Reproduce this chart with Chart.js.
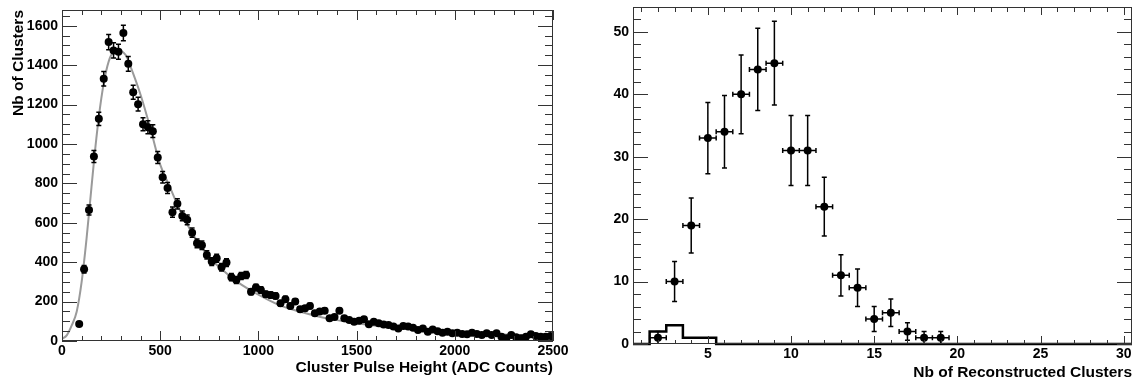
<!DOCTYPE html>
<html>
<head>
<meta charset="utf-8">
<script src="https://cdn.jsdelivr.net/npm/chart.js@4.4.1/dist/chart.umd.min.js"></script>
<style>
  html, body { margin: 0; padding: 0; background: #fff; }
  #wrap { position: relative; width: 1136px; height: 385px; }
  .pane { position: absolute; top: 0; width: 568px; height: 385px; }
</style>
</head>
<body>
<div id="wrap">
  <div class="pane" style="left:0"><canvas id="pulseChart" width="568" height="385"></canvas></div>
  <div class="pane" style="left:568px"><canvas id="clusterChart" width="568" height="385"></canvas></div>
</div>
<script>
// ========================================
// Left panel: cluster pulse height
// ========================================
const pulseX = [
  87.5, 112.5, 137.5, 162.5, 187.5, 212.5, 237.5, 262.5, 287.5, 312.5,
  337.5, 362.5, 387.5, 412.5, 437.5, 462.5, 487.5, 512.5, 537.5, 562.5,
  587.5, 612.5, 637.5, 662.5, 687.5, 712.5, 737.5, 762.5, 787.5, 812.5,
  837.5, 862.5, 887.5, 912.5, 937.5, 962.5, 987.5, 1012.5, 1037.5, 1062.5,
  1087.5, 1112.5, 1137.5, 1162.5, 1187.5, 1212.5, 1237.5, 1262.5, 1287.5, 1312.5,
  1337.5, 1362.5, 1387.5, 1412.5, 1437.5, 1462.5, 1487.5, 1512.5, 1537.5, 1562.5,
  1587.5, 1612.5, 1637.5, 1662.5, 1687.5, 1712.5, 1737.5, 1762.5, 1787.5, 1812.5,
  1837.5, 1862.5, 1887.5, 1912.5, 1937.5, 1962.5, 1987.5, 2012.5, 2037.5, 2062.5,
  2087.5, 2112.5, 2137.5, 2162.5, 2187.5, 2212.5, 2237.5, 2262.5, 2287.5, 2312.5,
  2337.5, 2362.5, 2387.5, 2412.5, 2437.5, 2462.5, 2487.5
];
const pulseCounts = [
  86, 364, 665, 936, 1128, 1331, 1517, 1475, 1468, 1563,
  1407, 1262, 1202, 1100, 1085, 1065, 931, 831, 776, 654,
  696, 635, 615, 550, 496, 486, 437, 403, 420, 374,
  398, 324, 310, 330, 335, 250, 271, 259, 237, 234,
  229, 191, 212, 178, 200, 161, 166, 178, 141, 150,
  154, 115, 122, 154, 115, 107, 98, 103, 110, 85,
  98, 90, 84, 81, 73, 64, 76, 73, 67, 56,
  64, 47, 59, 50, 42, 47, 39, 42, 36, 34,
  42, 36, 31, 39, 31, 39, 22, 14, 31, 19,
  14, 22, 34, 25, 22, 22, 25
];
const pulseErr = [
  9.3, 19.1, 25.8, 30.6, 33.6, 36.5, 38.9, 38.4, 38.3, 39.5,
  37.5, 35.5, 34.7, 33.2, 32.9, 32.6, 30.5, 28.8, 27.9, 25.6,
  26.4, 25.2, 24.8, 23.5, 22.3, 22.0, 20.9, 20.1, 20.5, 19.3,
  19.9, 18.0, 17.6, 18.2, 18.3, 15.8, 16.5, 16.1, 15.4, 15.3,
  15.1, 13.8, 14.6, 13.3, 14.1, 12.7, 12.9, 13.3, 11.9, 12.2,
  12.4, 10.7, 11.0, 12.4, 10.7, 10.3, 9.9, 10.1, 10.5, 9.2,
  9.9, 9.5, 9.2, 9.0, 8.5, 8.0, 8.7, 8.5, 8.2, 7.5,
  8.0, 6.9, 7.7, 7.1, 6.5, 6.9, 6.2, 6.5, 6.0, 5.8,
  6.5, 6.0, 5.6, 6.2, 5.6, 6.2, 4.7, 3.7, 5.6, 4.4,
  3.7, 4.7, 5.8, 5.0, 4.7, 4.7, 5.0
];
// fit curve
const fitX = [0, 25, 50, 75, 100, 125, 150, 175, 200, 225, 250, 287, 325, 350, 400, 450, 500,
  550, 600, 650, 700, 750, 800, 900, 1000, 1100, 1200, 1300, 1400, 1500, 1600, 1750, 2000, 2250, 2500];
const fitY = [10, 30, 80, 150, 300, 520, 780, 1030, 1230, 1370, 1450, 1475, 1450, 1390, 1250, 1080, 895,
  780, 665, 570, 490, 425, 375, 295, 235, 185, 152, 126, 106, 90, 78, 64, 47, 33, 22];
const pulseTicksX = [0, 500, 1000, 1500, 2000, 2500];
const pulseTicksY = [0, 200, 400, 600, 800, 1000, 1200, 1400, 1600];

// ========================================
// Right panel: reconstructed clusters
// ========================================
const clusterN = [2, 3, 4, 5, 6, 7, 8, 9, 10, 11, 12, 13, 14, 15, 16, 17, 18, 19];
const eventCounts = [1, 10, 19, 33, 34, 40, 44, 45, 31, 31, 22, 11, 9, 4, 5, 2, 1, 1];
const eventErr = [1, 3.2, 4.4, 5.7, 5.8, 6.3, 6.6, 6.7, 5.6, 5.6, 4.7, 3.3, 3, 2, 2.2, 1.4, 1, 1];
const clusterBinHalf = 0.5;
const histEdges = [0.5, 1.5, 2.5, 3.5, 4.5, 5.5, 30.5];
const histContent = [0, 2, 3, 1, 1, 0];
const clusterTicksX = [5, 10, 15, 20, 25, 30];
const clusterTicksY = [0, 10, 20, 30, 40, 50];

const FONT = "'Liberation Sans', Arial, Helvetica, sans-serif";

// ROOT style box with inward ticks on all four sides
const rootFrame = {
  id: 'rootFrame',
  afterDraw(chart, args, o) {
    const { ctx, chartArea: a, scales: { x, y } } = chart;
    const near = (v, step) => Math.abs(v / step - Math.round(v / step)) < 1e-6;
    ctx.save();
    ctx.strokeStyle = o.color;
    ctx.lineWidth = 1;
    ctx.strokeRect(a.left + 0.5, a.top + 0.5, a.right - a.left - 1, a.bottom - a.top - 1);
    ctx.beginPath();
    for (let v = Math.ceil(x.min / o.xMinor) * o.xMinor; v <= x.max + 1e-9; v += o.xMinor) {
      const px = Math.round(x.getPixelForValue(v)) + 0.5;
      const big = near(v, o.xMajor);
      const lb = big ? o.xMajorLen : o.xMinorLen;
      const lt = big ? o.xTopMajorLen : o.xTopMinorLen;
      ctx.moveTo(px, a.bottom); ctx.lineTo(px, a.bottom - lb);
      ctx.moveTo(px, a.top); ctx.lineTo(px, a.top + lt);
    }
    for (let v = Math.ceil(y.min / o.yMinor) * o.yMinor; v <= y.max + 1e-9; v += o.yMinor) {
      const py = Math.round(y.getPixelForValue(v)) + 0.5;
      const l = near(v, o.yMajor) ? o.yMajorLen : o.yMinorLen;
      ctx.moveTo(a.left, py); ctx.lineTo(a.left + l, py);
      ctx.moveTo(a.right, py); ctx.lineTo(a.right - l, py);
    }
    ctx.stroke();
    ctx.restore();
  }
};

// error bars drawn just under the markers
const errorBars = {
  id: 'errorBars',
  beforeDatasetDraw(chart, args) {
    const ds = chart.data.datasets[args.index];
    if (!ds.errY) return;
    const { ctx, chartArea: a, scales: { x, y } } = chart;
    const cap = ds.capSize;
    ctx.save();
    ctx.beginPath();
    ctx.rect(a.left, a.top, a.right - a.left, a.bottom - a.top);
    ctx.clip();
    ctx.strokeStyle = '#000';
    ctx.lineWidth = 1.5;
    ctx.beginPath();
    args.meta.data.forEach((pt, i) => {
      const d = ds.data[i];
      const e = ds.errY[i];
      const yt = y.getPixelForValue(d.y + e);
      const yb = y.getPixelForValue(d.y - e);
      ctx.moveTo(pt.x, yt); ctx.lineTo(pt.x, yb);
      ctx.moveTo(pt.x - cap, yt); ctx.lineTo(pt.x + cap, yt);
      ctx.moveTo(pt.x - cap, yb); ctx.lineTo(pt.x + cap, yb);
      if (ds.errX) {
        const xl = x.getPixelForValue(d.x - ds.errX);
        const xr = x.getPixelForValue(d.x + ds.errX);
        ctx.moveTo(xl, pt.y); ctx.lineTo(xr, pt.y);
        ctx.moveTo(xl, pt.y - cap); ctx.lineTo(xl, pt.y + cap);
        ctx.moveTo(xr, pt.y - cap); ctx.lineTo(xr, pt.y + cap);
      }
    });
    ctx.stroke();
    ctx.restore();
  }
};

function makeScales(cfg) {
  return {
    x: {
      type: 'linear', position: 'bottom', min: cfg.xMin, max: cfg.xMax,
      grid: { display: false, drawTicks: false }, border: { display: false },
      afterBuildTicks: s => { s.ticks = cfg.xTicks.map(v => ({ value: v })); },
      afterFit: s => { s.height = cfg.xHeight; s.paddingLeft = 0; s.paddingRight = 0; },
      ticks: { color: '#000', font: { family: FONT, weight: 'bold', size: 14 }, padding: 2,
        maxRotation: 0, autoSkip: false, callback: v => String(v) },
      title: { display: true, text: cfg.xTitle, align: 'end', color: '#000',
        font: { family: FONT, weight: 'bold', size: 15.5 }, padding: { top: 0, bottom: cfg.xTitlePad } }
    },
    y: {
      type: 'linear', min: 0, max: cfg.yMax,
      grid: { display: false, drawTicks: false }, border: { display: false },
      afterBuildTicks: s => { s.ticks = cfg.yTicks.map(v => ({ value: v })); },
      afterFit: s => { s.width = cfg.yWidth; s.paddingTop = 0; s.paddingBottom = 0; },
      ticks: { color: '#000', font: { family: FONT, weight: 'bold', size: 14 }, padding: 4,
        autoSkip: false, callback: v => String(v) },
      title: { display: !!cfg.yTitle, text: cfg.yTitle || '', align: 'end', color: '#000',
        font: { family: FONT, weight: 'bold', size: 15.5 }, padding: { top: 9, bottom: 0 } }
    }
  };
}

new Chart(document.getElementById('pulseChart'), {
  type: 'scatter',
  data: {
    datasets: [
      {
        label: 'data',
        data: pulseX.map((x, i) => ({ x, y: pulseCounts[i] })),
        errY: pulseErr,
        capSize: 2.5,
        pointRadius: 4,
        pointBackgroundColor: '#000',
        pointBorderWidth: 0
      },
      {
        type: 'line',
        label: 'fit',
        data: fitX.map((x, i) => ({ x, y: fitY[i] })),
        borderColor: '#9a9a9a',
        borderWidth: 2,
        pointRadius: 0,
        cubicInterpolationMode: 'monotone',
        fill: false
      }
    ]
  },
  options: {
    responsive: false,
    animation: false,
    devicePixelRatio: 1,
    layout: { padding: { left: 0, right: 15, top: 10, bottom: 0 } },
    plugins: {
      legend: { display: false },
      tooltip: { enabled: false },
      rootFrame: { color: '#333', xMinor: 100, xMajor: 500, yMinor: 50, yMajor: 200,
        xMajorLen: 10, xMinorLen: 5, xTopMajorLen: 10, xTopMinorLen: 5, yMajorLen: 15, yMinorLen: 8 }
    },
    scales: makeScales({
      xMin: 0, xMax: 2500, xTicks: pulseTicksX, xHeight: 44, xTitle: 'Cluster Pulse Height (ADC Counts)', xTitlePad: 8,
      yMax: 1680, yTicks: pulseTicksY, yWidth: 62, yTitle: 'Nb of Clusters'
    })
  },
  plugins: [rootFrame, errorBars]
});

new Chart(document.getElementById('clusterChart'), {
  type: 'scatter',
  data: {
    datasets: [
      {
        label: 'events',
        data: clusterN.map((x, i) => ({ x, y: eventCounts[i] })),
        errY: eventErr,
        errX: clusterBinHalf,
        capSize: 2.5,
        pointRadius: 4,
        pointBackgroundColor: '#000',
        pointBorderWidth: 0
      },
      {
        type: 'line',
        label: 'hist',
        data: histEdges.map((x, i) => ({ x, y: histContent[Math.min(i, histContent.length - 1)] })),
        stepped: 'before',
        borderColor: '#000',
        borderWidth: 2.5,
        pointRadius: 0,
        clip: 3,
        fill: false
      }
    ]
  },
  options: {
    responsive: false,
    animation: false,
    devicePixelRatio: 1,
    layout: { padding: { left: 0, right: 4, top: 7, bottom: 0 } },
    plugins: {
      legend: { display: false },
      tooltip: { enabled: false },
      rootFrame: { color: '#333', xMinor: 1, xMajor: 5, yMinor: 2, yMajor: 10,
        xMajorLen: 8, xMinorLen: 4, xTopMajorLen: 8, xTopMinorLen: 5, yMajorLen: 15, yMinorLen: 8 }
    },
    scales: makeScales({
      xMin: 0.5, xMax: 30.5, xTicks: clusterTicksX, xHeight: 41, xTitle: 'Nb of Reconstructed Clusters', xTitlePad: 3,
      yMax: 54, yTicks: clusterTicksY, yWidth: 65
    })
  },
  plugins: [rootFrame, errorBars]
});
</script>
</body>
</html>
